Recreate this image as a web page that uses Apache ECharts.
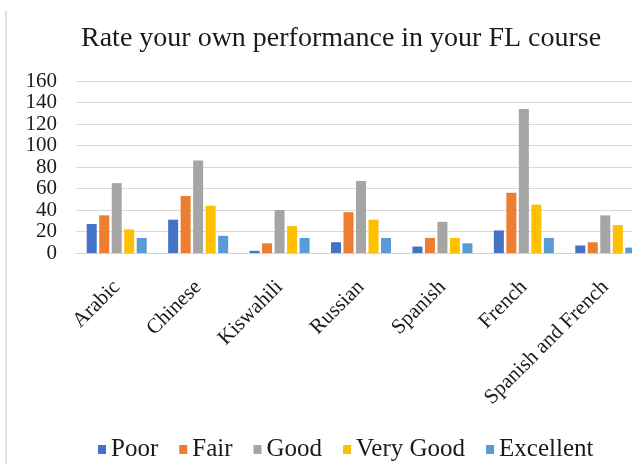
<!DOCTYPE html>
<html>
<head>
<meta charset="utf-8">
<script src="https://cdn.jsdelivr.net/npm/echarts@6/dist/echarts.min.js"></script>
<style>
  html, body { margin: 0; padding: 0; background: #fff; overflow: hidden; }
  #chart { width: 650px; height: 464px; }
</style>
</head>
<body>
<div id="chart"></div>
<script>
// Self-rated performance per foreign-language course
const categories = ['Arabic', 'Chinese', 'Kiswahili', 'Russian', 'Spanish', 'French', 'Spanish and French'];
const poor      = [27, 31, 2, 10, 6, 21, 7];
const fair      = [35, 53, 9, 38, 14, 56, 10];
const good      = [65, 86, 40, 67, 29, 134, 35];
const veryGood  = [22, 44, 25, 31, 14, 45, 26];
const excellent = [14, 16, 14, 14, 9, 14, 5];
const yTicks = [0, 20, 40, 60, 80, 100, 120, 140, 160];

const FONT = 'Liberation Serif';
const seriesDefs = [
  { name: 'Poor', data: poor, color: '#4472C4' },
  { name: 'Fair', data: fair, color: '#ED7D31' },
  { name: 'Good', data: good, color: '#A5A5A5' },
  { name: 'Very Good', data: veryGood, color: '#FFC000' },
  { name: 'Excellent', data: excellent, color: '#5B9BD5' }
];

// The plot runs slightly past the right edge of the 632px view, so the
// canvas is a little wider than the window and the overflow is clipped.
const chart = echarts.init(document.getElementById('chart'), null, { renderer: 'canvas' });
chart.setOption({
  animation: false,
  backgroundColor: '#fff',
  textStyle: { fontFamily: FONT, color: '#1a1a1a' },
  title: {
    text: 'Rate your own performance in your FL course',
    left: 76,
    top: 20,
    textStyle: { fontFamily: FONT, fontSize: 28, fontWeight: 'normal', color: '#1a1a1a' }
  },
  legend: {
    bottom: 2,
    left: 98,
    padding: 0,
    itemWidth: 8,
    itemHeight: 9,
    itemGap: 21,
    icon: 'rect',
    textStyle: { fontFamily: FONT, fontSize: 25, fontWeight: 'normal', color: '#1a1a1a' },
    data: seriesDefs.map(s => s.name)
  },
  grid: { left: 76, right: 4, top: 81, bottom: 211, containLabel: false },
  xAxis: {
    type: 'category',
    data: categories,
    axisTick: { show: false },
    axisLine: { lineStyle: { color: '#d0d0d0' } },
    axisLabel: {
      rotate: 45,
      interval: 0,
      margin: 31,
      fontFamily: FONT,
      fontSize: 21,
      color: '#1a1a1a'
    }
  },
  yAxis: {
    type: 'value',
    min: yTicks[0],
    max: yTicks[yTicks.length - 1],
    interval: 20,
    axisLine: { show: false },
    axisTick: { show: false },
    splitLine: { lineStyle: { color: '#d9d9d9' } },
    axisLabel: {
      fontFamily: FONT,
      fontSize: 21,
      lineHeight: 18,
      color: '#1a1a1a',
      margin: 19,
      showMinLabel: true,
      showMaxLabel: true,
      hideOverlap: false
    }
  },
  graphic: [{
    type: 'line',
    shape: { x1: 6, y1: 11, x2: 6, y2: 464 },
    style: { stroke: '#d8d8d8', lineWidth: 1.5 }
  }],
  series: seriesDefs.map(s => ({
    name: s.name,
    type: 'bar',
    data: s.data,
    itemStyle: { color: s.color },
    barWidth: 10,
    barGap: '25%',
    barCategoryGap: '26%'
  }))
});
</script>
</body>
</html>
